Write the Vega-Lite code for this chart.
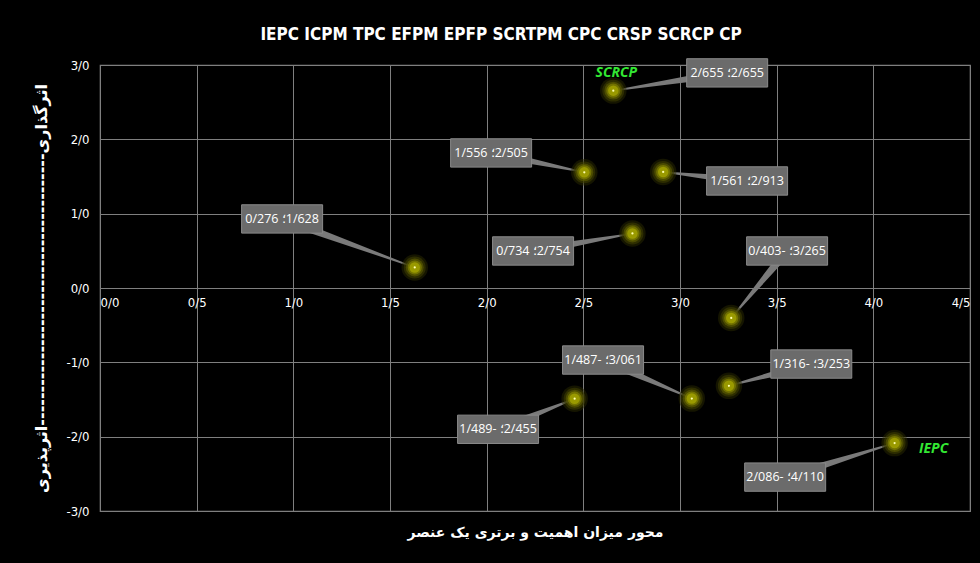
{
  "$schema": "https://vega.github.io/schema/vega-lite/v6.json",
  "width": 870,
  "height": 446,
  "autosize": "none",
  "padding": {"left": 100, "top": 65, "right": 10, "bottom": 52},
  "background": "#000000",
  "title": {
    "text": "IEPC ICPM TPC EFPM EPFP SCRTPM CPC CRSP SCRCP CP",
    "color": "#ffffff",
    "fontSize": 17,
    "font": "DejaVu Sans Condensed, Liberation Sans, sans-serif",
    "fontWeight": "bold",
    "anchor": "middle",
    "frame": "group",
    "dx": -34,
    "offset": 13
  },
  "config": {
    "view": {"stroke": "#7f7f7f", "strokeWidth": 1.2},
    "axis": {"domain": false, "ticks": false}
  },
  "data": {
    "values": [
      {"id": "SCRCP", "x": 2.655, "y": 2.655, "label": "2/655 ؛‎2/655", "lx": 3.244, "ly": 2.894},
      {"id": "P2", "x": 2.505, "y": 1.556, "label": "1/556 ؛‎2/505", "lx": 2.023, "ly": 1.817},
      {"id": "P3", "x": 2.913, "y": 1.561, "label": "1/561 ؛‎2/913", "lx": 3.347, "ly": 1.44},
      {"id": "P4", "x": 1.628, "y": 0.276, "label": "0/276 ؛‎1/628", "lx": 0.942, "ly": 0.929},
      {"id": "P5", "x": 2.754, "y": 0.734, "label": "0/734 ؛‎2/754", "lx": 2.24, "ly": 0.498},
      {"id": "P6", "x": 3.265, "y": -0.403, "label": "0/403- ؛‎3/265", "lx": 3.554, "ly": 0.498},
      {"id": "P7", "x": 3.061, "y": -1.487, "label": "1/487- ؛‎3/061", "lx": 2.602, "ly": -0.969},
      {"id": "P8", "x": 3.253, "y": -1.316, "label": "1/316- ؛‎3/253", "lx": 3.679, "ly": -1.023},
      {"id": "P9", "x": 2.455, "y": -1.489, "label": "1/489- ؛‎2/455", "lx": 2.059, "ly": -1.901},
      {"id": "IEPC", "x": 4.11, "y": -2.086, "label": "2/086- ؛‎4/110", "lx": 3.544, "ly": -2.544}
    ]
  },
  "resolve": {"axis": {"x": "independent"}},
  "layer": [
    {
      "transform": [
        {"fold": ["x", "lx"], "as": ["kx", "vx"]},
        {"calculate": "datum.kx == 'x' ? datum.y : datum.ly", "as": "vy"},
        {"calculate": "datum.kx == 'x' ? 1 : 9", "as": "w"}
      ],
      "mark": {"type": "trail", "color": "#7a7a7a"},
      "encoding": {
        "x": {
          "field": "vx", "type": "quantitative",
          "scale": {"domain": [0, 4.5], "nice": false, "zero": false},
          "axis": {
            "orient": "bottom",
            "values": [0, 0.5, 1, 1.5, 2, 2.5, 3, 3.5, 4, 4.5],
            "grid": true, "gridColor": "#7f7f7f", "gridWidth": 1,
            "labels": false,
            "title": "محور میزان اهمیت و برتری یک عنصر",
            "titleColor": "#ffffff", "titleFont": "DejaVu Sans", "titleFontSize": 14, "titleFontWeight": "bold",
            "titlePadding": 14
          }
        },
        "y": {
          "field": "vy", "type": "quantitative",
          "scale": {"domain": [-3, 3], "nice": false, "zero": false},
          "axis": {
            "values": [-3, -2, -1, 0, 1, 2, 3],
            "grid": true, "gridColor": "#7f7f7f", "gridWidth": 1,
            "labelColor": "#ffffff", "labelFontSize": 13, "labelFont": "DejaVu Sans Condensed, Liberation Sans, sans-serif", "labelPadding": 11,
            "labelExpr": "(datum.value < 0 ? '-' : '') + replace(format(abs(datum.value), '.1f'), '.', '/')",
            "title": "اثرگذاری-----------------------------------------اثرپذیری",
            "titleColor": "#ffffff", "titleFont": "DejaVu Sans", "titleFontSize": 16, "titleFontWeight": "bold",
            "titleX": -59, "titleY": 223, "titleBaseline": "middle"
          }
        },
        "detail": {"field": "id"},
        "order": {"field": "w"},
        "size": {"field": "w", "type": "quantitative", "scale": null, "legend": null}
      }
    },
    {
      "mark": {"type": "point", "filled": true, "color": "#2a2a00", "opacity": 0.5, "size": 700},
      "encoding": {
        "x": {
          "field": "x", "type": "quantitative",
          "axis": {
            "orient": "bottom",
            "values": [0, 0.5, 1, 1.5, 2, 2.5, 3, 3.5, 4, 4.5],
            "grid": false, "offset": -223,
            "labelColor": "#ffffff", "labelFontSize": 13, "labelFont": "DejaVu Sans Condensed, Liberation Sans, sans-serif", "labelPadding": 8,
            "labelExpr": "(datum.value < 0 ? '-' : '') + replace(format(abs(datum.value), '.1f'), '.', '/')",
            "title": null
          }
        },
        "y": {"field": "y", "type": "quantitative"}
      }
    },
    {
      "mark": {"type": "point", "filled": true, "color": "#3e3e00", "opacity": 0.6, "size": 480},
      "encoding": {
        "x": {"field": "x", "type": "quantitative", "axis": null},
        "y": {"field": "y", "type": "quantitative"}
      }
    },
    {
      "mark": {"type": "point", "filled": true, "color": "#5a5a00", "opacity": 0.7, "size": 320},
      "encoding": {
        "x": {"field": "x", "type": "quantitative", "axis": null},
        "y": {"field": "y", "type": "quantitative"}
      }
    },
    {
      "mark": {"type": "point", "filled": true, "color": "#7c7c00", "opacity": 0.8, "size": 200},
      "encoding": {
        "x": {"field": "x", "type": "quantitative", "axis": null},
        "y": {"field": "y", "type": "quantitative"}
      }
    },
    {
      "mark": {"type": "point", "filled": true, "color": "#9a9a00", "opacity": 1, "size": 110},
      "encoding": {
        "x": {"field": "x", "type": "quantitative", "axis": null},
        "y": {"field": "y", "type": "quantitative"}
      }
    },
    {
      "mark": {"type": "point", "filled": true, "color": "#ffffb0", "opacity": 1, "size": 5},
      "encoding": {
        "x": {"field": "x", "type": "quantitative", "axis": null},
        "y": {"field": "y", "type": "quantitative"}
      }
    },
    {
      "mark": {"type": "point", "filled": true, "color": "#6b6b6b", "opacity": 1, "size": 6560, "shape": "M-1,-0.35L1,-0.35L1,0.35L-1,0.35Z", "stroke": "#8a8a8a", "strokeWidth": 1},
      "encoding": {
        "x": {"field": "lx", "type": "quantitative", "axis": null},
        "y": {"field": "ly", "type": "quantitative"}
      }
    },
    {
      "mark": {"type": "text", "color": "#ffffff", "fontSize": 12.5, "font": "Open Sans", "align": "center", "baseline": "middle"},
      "encoding": {
        "x": {"field": "lx", "type": "quantitative", "axis": null},
        "y": {"field": "ly", "type": "quantitative"},
        "text": {"field": "label"}
      }
    },
    {
      "transform": [{"filter": "datum.id == 'SCRCP'"}],
      "mark": {"type": "text", "color": "#33e833", "fontSize": 14, "font": "Open Sans", "fontWeight": "bold", "fontStyle": "italic", "align": "center", "baseline": "middle", "dx": 3, "dy": -18},
      "encoding": {
        "x": {"field": "x", "type": "quantitative", "axis": null},
        "y": {"field": "y", "type": "quantitative"},
        "text": {"field": "id"}
      }
    },
    {
      "transform": [{"filter": "datum.id == 'IEPC'"}],
      "mark": {"type": "text", "color": "#33e833", "fontSize": 14, "font": "Open Sans", "fontWeight": "bold", "fontStyle": "italic", "align": "center", "baseline": "middle", "dx": 39, "dy": 6},
      "encoding": {
        "x": {"field": "x", "type": "quantitative", "axis": null},
        "y": {"field": "y", "type": "quantitative"},
        "text": {"field": "id"}
      }
    }
  ]
}
